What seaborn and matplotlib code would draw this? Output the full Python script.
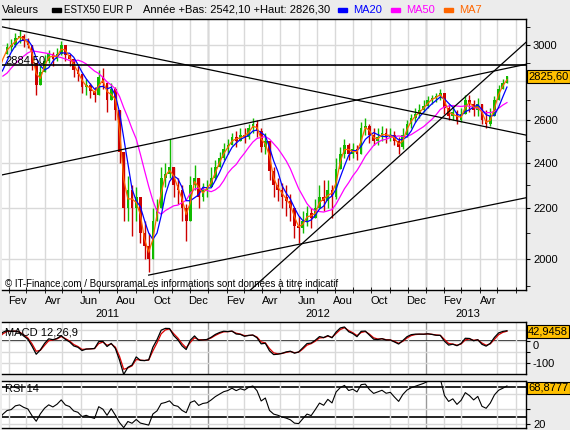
import matplotlib
matplotlib.use('Agg')
import matplotlib.pyplot as plt
import matplotlib.dates as mdates
import matplotlib.transforms as mtransforms
from matplotlib.patches import Rectangle
from matplotlib.ticker import FixedLocator, FixedFormatter, NullFormatter
import numpy as np
import pandas as pd
import seaborn as sns

plt.rcParams['font.family'] = ['Liberation Sans', 'DejaVu Sans']

# weekly closes before the visible window (only feed the moving averages)
warmup_close = [2830, 2730, 2790, 2830, 2830, 2820, 2790, 2810, 2890, 2950]

# weekly candles, Friday 28 Jan 2011 .. Friday 17 May 2013
close = [2990, 3000, 3040, 3050, 3020, 3000, 2900, 2780, 2850, 2910,
         2950, 2920, 2950, 3000, 2940, 2920, 2860, 2840, 2770, 2780,
         2750, 2730, 2820, 2790, 2700, 2760, 2650, 2450, 2200, 2280,
         2200, 2250, 2100, 2050, 2000, 2150, 2200, 2330, 2350, 2380,
         2300, 2280, 2200, 2150, 2300, 2330, 2250, 2280, 2290, 2330,
         2380, 2420, 2460, 2480, 2520, 2500, 2530, 2520, 2560, 2580,
         2550, 2470, 2500, 2360, 2300, 2280, 2250, 2230, 2200, 2130,
         2120, 2150, 2180, 2160, 2200, 2250, 2230, 2280, 2250, 2370,
         2440, 2480, 2440, 2460, 2440, 2560, 2570, 2530, 2500, 2520,
         2540, 2520, 2530, 2500, 2470, 2530, 2580, 2610, 2630, 2650,
         2670, 2700, 2710, 2720, 2740, 2660, 2620, 2640, 2600, 2630,
         2700, 2680, 2650, 2680, 2600, 2580, 2620, 2700, 2760, 2790,
         2825.6]
high = [3010, 3030, 3070, 3085, 3060, 3040, 3000, 2880, 2880, 2940,
        2970, 2960, 2980, 3020, 2990, 2950, 2900, 2880, 2830, 2810,
        2790, 2770, 2860, 2870, 2790, 2790, 2770, 2620, 2420, 2340,
        2300, 2290, 2250, 2150, 2100, 2200, 2240, 2380, 2400, 2510,
        2380, 2330, 2300, 2220, 2340, 2390, 2320, 2310, 2320, 2380,
        2410, 2450, 2490, 2510, 2540, 2550, 2560, 2560, 2580, 2610,
        2600, 2560, 2540, 2460, 2380, 2330, 2310, 2300, 2260, 2200,
        2170, 2190, 2210, 2200, 2240, 2300, 2320, 2320, 2300, 2420,
        2470, 2510, 2490, 2490, 2480, 2590, 2610, 2580, 2560, 2560,
        2570, 2560, 2560, 2550, 2520, 2560, 2600, 2630, 2660, 2680,
        2700, 2720, 2730, 2740, 2760, 2740, 2680, 2670, 2650, 2660,
        2730, 2730, 2700, 2710, 2680, 2650, 2660, 2720, 2780, 2810,
        2826.3]
low = [2960, 2965, 2990, 3010, 2990, 2980, 2860, 2730, 2790, 2860,
       2900, 2880, 2910, 2940, 2910, 2880, 2820, 2800, 2740, 2730,
       2710, 2690, 2740, 2760, 2640, 2700, 2600, 2400, 2150, 2150,
       2090, 2150, 2060, 2000, 1950, 2050, 2150, 2250, 2290, 2330,
       2250, 2220, 2150, 2070, 2200, 2280, 2200, 2230, 2250, 2290,
       2320, 2380, 2410, 2440, 2480, 2470, 2500, 2490, 2510, 2540,
       2520, 2450, 2440, 2320, 2250, 2230, 2200, 2170, 2150, 2080,
       2060, 2100, 2130, 2120, 2170, 2200, 2190, 2200, 2160, 2240,
       2380, 2420, 2410, 2420, 2410, 2480, 2530, 2490, 2480, 2480,
       2500, 2490, 2500, 2480, 2440, 2460, 2520, 2560, 2590, 2610,
       2640, 2660, 2680, 2690, 2700, 2630, 2600, 2600, 2580, 2590,
       2650, 2640, 2620, 2620, 2580, 2560, 2570, 2650, 2700, 2760,
       2790]

month_names = ['Fev', 'Avr', 'Jun', 'Aou', 'Oct', 'Dec']
price_ticks = [2000, 2200, 2400, 2600, 2800, 3000]
price_labels = ['2000', '2200', '2400', '2600', '', '3000']
level_line = 2884.5
# drawn trendlines: (start date, start value, end date, end value)
trendlines = [('2011-01-19', 3104, '2013-06-18', 2528),
              ('2011-01-19', 2344, '2013-06-18', 2891),
              ('2011-09-23', 1939, '2013-06-18', 2245),
              ('2012-03-12', 1885, '2013-06-18', 3014)]

x_start, x_end = pd.Timestamp('2011-01-19 12:00'), pd.Timestamp('2013-06-18')

# ---- series ----
dates = pd.date_range('2010-11-19', periods=len(warmup_close) + len(close), freq='W-FRI')
s = pd.Series(warmup_close + close, index=dates)
ma7 = s.rolling(2).mean()
ma20 = s.rolling(4).mean()
ma50 = s.rolling(10).mean()
ema_fast = s.ewm(span=12 / 5, adjust=False).mean()
ema_slow = s.ewm(span=26 / 5, adjust=False).mean()
macd = ema_fast - ema_slow
signal = macd.ewm(span=9 / 5, adjust=False).mean()
delta = s.diff()
gain = delta.clip(lower=0).ewm(alpha=1 / 9, adjust=False).mean()
loss = (-delta.clip(upper=0)).ewm(alpha=1 / 9, adjust=False).mean()
rsi = 100 - 100 / (1 + gain / loss)

vis = dates >= pd.Timestamp('2011-01-28')
d = dates[vis]
o = s.shift(1)[vis].values
c = np.array(close)
hi = np.maximum(np.array(high), np.maximum(o, c))
lo = np.minimum(np.array(low), np.minimum(o, c))
up = c >= o

# ---- figure ----
W, H = 570, 430
fig = plt.figure(figsize=(W / 100, H / 100), dpi=100, facecolor='#ececec')


def box(x0, y0, x1, y1):
    return [x0 / W, 1 - y1 / H, (x1 - x0) / W, (y1 - y0) / H]


ax = fig.add_axes(box(2, 19, 526, 290))
ax_macd = fig.add_axes(box(2, 322, 526, 374))
ax_rsi = fig.add_axes(box(2, 381, 526, 428))

grid_c = '#d9d9d9'
years = [pd.Timestamp('2012-01-01'), pd.Timestamp('2013-01-01')]
for a in (ax, ax_macd, ax_rsi):
    a.set_facecolor('white')
    a.set_xlim(x_start, x_end)
    a.xaxis.set_minor_locator(mdates.MonthLocator())
    a.grid(which='minor', axis='x', color=grid_c, lw=1, zorder=0)
    for yv in years:
        a.axvline(yv, color='#999999', lw=1, zorder=0.5)
    a.yaxis.tick_right()
    for sp in a.spines.values():
        sp.set_color('black')
        sp.set_linewidth(1)
    a.spines['left'].set_visible(False)
    a.tick_params(axis='y', which='both', direction='out', length=3, labelsize=8, pad=2)

# candles
green, red = '#11bb00', '#cc0000'
ax.vlines(d[up], lo[up], hi[up], color=green, lw=1, zorder=2)
ax.vlines(d[~up], lo[~up], hi[~up], color=red, lw=1, zorder=2)
ax.bar(d[up], np.abs(c - o)[up], bottom=np.minimum(o, c)[up], width=4.5, color=green, zorder=2)
ax.bar(d[~up], np.abs(c - o)[~up], bottom=np.minimum(o, c)[~up], width=4.5, color=red, zorder=2)

sns.lineplot(x=dates, y=ma50.values, ax=ax, color='#ff00ff', lw=0.9, zorder=3)
sns.lineplot(x=dates, y=ma20.values, ax=ax, color='#0000ff', lw=0.9, zorder=3)
sns.lineplot(x=dates, y=ma7.values, ax=ax, color='#ff6600', lw=0.9, zorder=3)

for d0, v0, d1, v1 in trendlines:
    ax.plot([pd.Timestamp(d0), pd.Timestamp(d1)], [v0, v1], color='black', lw=0.9, zorder=4)
ax.axhline(level_line, color='black', lw=1.2, zorder=4)
ax.text(0.006, level_line, '2884,50', transform=mtransforms.blended_transform_factory(ax.transAxes, ax.transData),
        fontsize=8, va='bottom', ha='left', zorder=5)

ax.set_yscale('log')
ax.set_ylim(1885, 3150)
ax.yaxis.set_major_locator(FixedLocator(price_ticks))
ax.yaxis.set_minor_locator(FixedLocator(np.arange(1900, 3200, 100)))
ax.yaxis.set_major_formatter(FixedFormatter(price_labels))
ax.yaxis.set_minor_formatter(NullFormatter())
ax.grid(which='major', axis='y', color=grid_c, lw=1, zorder=0)

mid_months = pd.date_range('2011-02-01', '2013-04-01', freq='2MS') + pd.Timedelta(days=14)
ax.set_xticks(mdates.date2num(mid_months))
ax.set_xticklabels([month_names[m.month // 2 - 1] for m in mid_months])
ax.tick_params(axis='x', which='major', length=0, labelsize=8, pad=4)
ax.tick_params(axis='x', which='minor', length=4, direction='inout')
for yr in (2011, 2012, 2013):
    dy = d[d.year == yr]
    mid = dy.min() + (dy.max() - dy.min()) / 2
    ax.text(mid, -0.089, str(yr), transform=mtransforms.blended_transform_factory(ax.transData, ax.transAxes),
            ha='center', va='center', fontsize=8)
ax.text(0.006, 0.022, '© IT-Finance.com / BoursoramaLes informations sont données à titre indicatif',
        transform=ax.transAxes, fontsize=7, va='center', ha='left', zorder=6)
ax.set_xlabel('')
ax.set_ylabel('')

# MACD
ax_macd.axhline(0, color='black', lw=1.2, zorder=1)
sns.lineplot(x=dates, y=macd.values, ax=ax_macd, color='black', lw=0.9, zorder=3)
sns.lineplot(x=dates, y=signal.values, ax=ax_macd, color='#dd0000', lw=0.9, zorder=2)
ax_macd.set_ylim(-150, 86)
ax_macd.set_yticks([50, 0, -50, -100])
ax_macd.set_yticklabels(['', '0', '', '-100'])
ax_macd.grid(axis='y', color=grid_c, lw=1, zorder=0)
ax_macd.text(0.006, 0.79, 'MACD 12,26,9', transform=ax_macd.transAxes, fontsize=8, va='center')

# RSI
ax_rsi.axhline(70, color='black', lw=1.2, zorder=1)
ax_rsi.axhline(30, color='black', lw=1.2, zorder=1)
sns.lineplot(x=dates, y=rsi.values, ax=ax_rsi, color='black', lw=0.8, zorder=3)
ax_rsi.set_ylim(15.3, 78)
ax_rsi.set_yticks([20, 40, 60])
ax_rsi.set_yticklabels(['20', '', ''])
ax_rsi.grid(axis='y', color=grid_c, lw=1, zorder=0)
ax_rsi.text(0.006, 0.83, 'RSI 14', transform=ax_rsi.transAxes, fontsize=8, va='center')

for a in (ax_macd, ax_rsi):
    a.tick_params(axis='x', which='both', labelbottom=False, length=0)
    a.set_xlabel('')
    a.set_ylabel('')
ax_macd.yaxis.get_majorticklabels()[1].set_verticalalignment('top')

# last-value boxes (values shown as in the reference)
badge = dict(boxstyle='square,pad=0.12', fc='#ffc000', ec='black', lw=0.8)
for a, val, txt in ((ax, close[-1], '2825,60'), (ax_macd, 42.9458, '42,9458'), (ax_rsi, 68.8777, '68,8777')):
    a.text(1.004, val, txt, transform=mtransforms.blended_transform_factory(a.transAxes, a.transData),
           ha='left', va='center', fontsize=8, bbox=badge, clip_on=False, zorder=10)

# header legend
hy = 1 - 10 / H
fig.text(2 / W, hy, 'Valeurs', fontsize=8, va='center')
fig.text(64 / W, hy, 'ESTX50 EUR P', fontsize=7, va='center')
fig.text(143 / W, hy, 'Année +Bas: 2542,10 +Haut: 2826,30', fontsize=8, va='center')
for x0, col, lab in ((52, 'black', None), (338, '#0000ff', 'MA20'), (391, '#ff00ff', 'MA50'), (444, '#ff6600', 'MA7')):
    fig.patches.append(Rectangle((x0 / W, 1 - 12 / H), 9 / W, 4 / H, transform=fig.transFigure, color=col))
    if lab:
        fig.text((x0 + 15) / W, hy, lab, fontsize=8, va='center', color=col)

fig.savefig('out.png', dpi=100, facecolor=fig.get_facecolor())
